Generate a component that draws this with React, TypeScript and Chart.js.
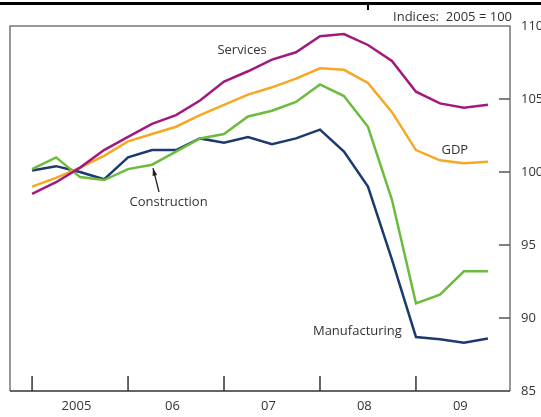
import React, { useEffect, useRef } from "react";
import { Chart, registerables } from "chart.js";

Chart.register(...registerables);

// Quarterly observations, 2005 Q1 .. 2009 Q4
const quarters: string[] = [
  "2005 Q1", "2005 Q2", "2005 Q3", "2005 Q4",
  "2006 Q1", "2006 Q2", "2006 Q3", "2006 Q4",
  "2007 Q1", "2007 Q2", "2007 Q3", "2007 Q4",
  "2008 Q1", "2008 Q2", "2008 Q3", "2008 Q4",
  "2009 Q1", "2009 Q2", "2009 Q3", "2009 Q4",
];
const services: number[] = [98.5, 99.3, 100.3, 101.5, 102.4, 103.3, 103.9, 104.9, 106.2, 106.9, 107.7, 108.2, 109.3, 109.45, 108.7, 107.6, 105.5, 104.7, 104.4, 104.6];
const gdp: number[] = [99.0, 99.6, 100.3, 101.1, 102.1, 102.6, 103.1, 103.9, 104.6, 105.3, 105.8, 106.4, 107.1, 107.0, 106.1, 104.1, 101.5, 100.8, 100.6, 100.7];
const construction: number[] = [100.2, 101.0, 99.65, 99.45, 100.2, 100.5, 101.4, 102.3, 102.6, 103.8, 104.2, 104.8, 106.0, 105.2, 103.1, 98.1, 91.0, 91.6, 93.2, 93.2];
const manufacturing: number[] = [100.1, 100.4, 100.0, 99.5, 101.0, 101.5, 101.5, 102.3, 102.0, 102.4, 101.9, 102.3, 102.9, 101.4, 99.0, 94.0, 88.7, 88.55, 88.3, 88.6];

const yearLabels: string[] = ["2005", "06", "07", "08", "09"];
const yTicks: number[] = [85, 90, 95, 100, 105, 110];

const COLORS = {
  services: "#a3187f",
  gdp: "#f6a823",
  construction: "#6cbb3c",
  manufacturing: "#1d3a70",
};

const FONT = '"Open Sans", "Noto Sans", sans-serif';

const toXY = (arr: number[]) => arr.map((v, i) => ({ x: i, y: v }));

export default function App() {
  const ref = useRef<HTMLCanvasElement | null>(null);

  useEffect(() => {
    const canvas = ref.current;
    if (!canvas) return;

    const decor = {
      id: "decor",
      afterDraw(chart: any) {
        const ctx = chart.ctx as CanvasRenderingContext2D;
        const xs = chart.scales.x;
        const ys = chart.scales.y;
        const a = chart.chartArea;
        ctx.save();
        // top black rule
        ctx.fillStyle = "#000";
        ctx.fillRect(0, 2, 541, 3);
        ctx.fillRect(367, 2, 2, 8);
        // title
        ctx.fillStyle = "#333";
        ctx.font = `13px ${FONT}`;
        ctx.textAlign = "right";
        ctx.textBaseline = "alphabetic";
        ctx.fillText("Indices:  2005 = 100", 512, 21);
        // box
        ctx.strokeStyle = "#777";
        ctx.lineWidth = 1.5;
        ctx.beginPath();
        ctx.moveTo(a.left, a.bottom);
        ctx.lineTo(a.left, a.top);
        ctx.lineTo(a.right, a.top);
        ctx.lineTo(a.right, a.bottom);
        ctx.stroke();
        ctx.strokeStyle = "#333";
        ctx.beginPath();
        ctx.moveTo(a.left, a.bottom);
        ctx.lineTo(a.right, a.bottom);
        ctx.stroke();
        // y ticks (inward from right)
        ctx.strokeStyle = "#555";
        ctx.lineWidth = 1.5;
        yTicks.forEach((v) => {
          if (v === 85 || v === 110) return;
          const y = ys.getPixelForValue(v);
          ctx.beginPath();
          ctx.moveTo(a.right - 11, y);
          ctx.lineTo(a.right, y);
          ctx.stroke();
        });
        // x ticks at year starts
        ctx.strokeStyle = "#333";
        for (let k = 0; k < yearLabels.length; k++) {
          const x = xs.getPixelForValue(k * 4);
          ctx.beginPath();
          ctx.moveTo(x, a.bottom);
          ctx.lineTo(x, a.bottom - 15);
          ctx.stroke();
        }
        // series labels
        ctx.fillStyle = "#333";
        ctx.font = `13px ${FONT}`;
        ctx.textAlign = "center";
        ctx.textBaseline = "middle";
        const lab = (t: string, x: number, y: number) =>
          ctx.fillText(t, xs.getPixelForValue(x), ys.getPixelForValue(y));
        lab("Services", 8.75, 108.35);
        lab("GDP", 17.62, 101.5);
        lab("Construction", 5.69, 97.9);
        lab("Manufacturing", 13.56, 89.1);
        // arrow
        const x0 = xs.getPixelForValue(5.29), y0 = ys.getPixelForValue(98.63);
        const x1 = xs.getPixelForValue(5.04), y1 = ys.getPixelForValue(100.27);
        ctx.strokeStyle = "#222";
        ctx.lineWidth = 1.3;
        ctx.beginPath();
        ctx.moveTo(x0, y0);
        ctx.lineTo(x1, y1);
        ctx.stroke();
        const ang = Math.atan2(y1 - y0, x1 - x0);
        ctx.fillStyle = "#222";
        ctx.beginPath();
        ctx.moveTo(x1, y1);
        ctx.lineTo(x1 - 8 * Math.cos(ang - 0.3), y1 - 8 * Math.sin(ang - 0.3));
        ctx.lineTo(x1 - 8 * Math.cos(ang + 0.3), y1 - 8 * Math.sin(ang + 0.3));
        ctx.closePath();
        ctx.fill();
        ctx.restore();
      },
    };

    const ds = (label: string, data: number[], color: string) => ({
      label,
      data: toXY(data),
      borderColor: color,
      backgroundColor: color,
      borderWidth: 2.5,
      pointRadius: 0,
      tension: 0,
      fill: false,
    });

    const chart = new Chart(canvas, {
      type: "line",
      data: {
        labels: quarters,
        datasets: [
          ds("Services", services, COLORS.services),
          ds("GDP", gdp, COLORS.gdp),
          ds("Construction", construction, COLORS.construction),
          ds("Manufacturing", manufacturing, COLORS.manufacturing),
        ],
      },
      options: {
        animation: false,
        responsive: false,
        maintainAspectRatio: false,
        layout: { padding: { left: 10, top: 26, right: 0, bottom: 0 } },
        plugins: { legend: { display: false }, tooltip: { enabled: false }, title: { display: false } },
        scales: {
          x: {
            type: "linear",
            min: -0.92,
            max: 19.92,
            grid: { display: false, drawTicks: false },
            border: { display: false },
            afterBuildTicks: (scale: any) => {
              scale.ticks = yearLabels.map((_, k) => ({ value: k * 4 + 1.85 }));
            },
            afterFit: (scale: any) => {
              scale.height = 26;
            },
            ticks: {
              autoSkip: false,
              maxRotation: 0,
              padding: 7,
              color: "#333",
              font: { family: FONT, size: 13 },
              callback: (v: any) => yearLabels[Math.round((Number(v) - 1.85) / 4)],
            },
          },
          y: {
            position: "right",
            min: 85,
            max: 110,
            grid: { display: false, drawTicks: false },
            border: { display: false },
            afterBuildTicks: (scale: any) => {
              scale.ticks = yTicks.map((v) => ({ value: v }));
            },
            afterFit: (scale: any) => {
              scale.width = 31;
            },
            ticks: {
              padding: 11,
              color: "#333",
              font: { family: FONT, size: 13 },
            },
          },
        },
      },
      plugins: [decor],
    } as any);

    return () => chart.destroy();
  }, []);

  return (
    <div style={{ position: "absolute", left: 0, top: 0, width: 541, height: 417, background: "#fff" }}>
      <canvas ref={ref} width={541} height={417} style={{ display: "block", width: 541, height: 417 }} />
    </div>
  );
}
